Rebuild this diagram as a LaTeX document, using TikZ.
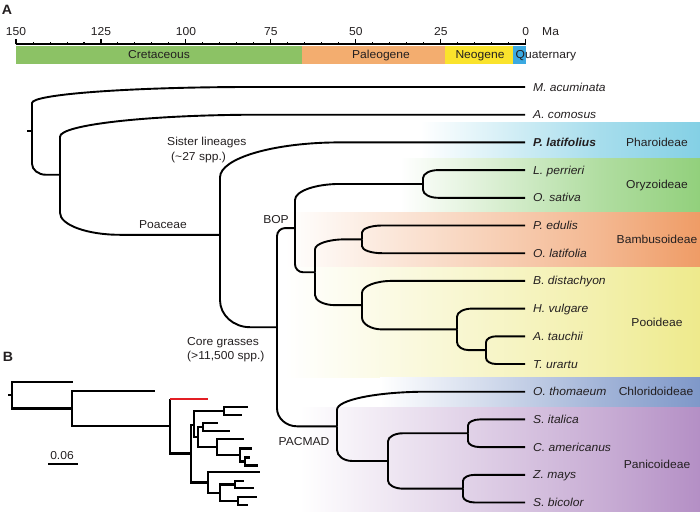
\documentclass[tikz,border=0pt]{standalone}
\usepackage{fontspec}
\setmainfont{Liberation Sans}[FakeStretch=1.05]
\usetikzlibrary{calc}
\definecolor{cret}{HTML}{8CC265}
\definecolor{pale}{HTML}{F3AD6F}
\definecolor{neog}{HTML}{FAE32C}
\definecolor{quat}{HTML}{3BA9E1}
\definecolor{phar}{HTML}{84D0E5}
\definecolor{ory}{HTML}{92D07C}
\definecolor{bamc}{HTML}{EF9C66}
\definecolor{pooc}{HTML}{EEEA8C}
\definecolor{chl}{HTML}{7F98C9}
\definecolor{panc}{HTML}{B48FC5}
\definecolor{txt}{HTML}{231F20}
\definecolor{redc}{HTML}{E31E24}
\newcommand\br[4]{%
 \draw[tree] (#1) -- ($(#1|-#2)!#4pt!(#1)$)
   .. controls ($(#1|-#2)!0.45*#4pt!(#1)$) and ($(#1|-#2)!0.45*#3pt!(#2)$)
   .. ($(#1|-#2)!#3pt!(#2)$) -- (#2);}
\newcommand\bb[2]{\draw[treeb] (#1) |- (#2);}
\newcommand\band[5]{% start, top, bottom, colour
 \shade[left color=white,right color=#4!72!white] (#1,#2) rectangle (600,#3);
 \shade[left color=#4!72!white,right color=#4] (600,#2) rectangle (700,#3);}
\tikzset{
 tree/.style={line width=1.9pt,draw=black},
 treeb/.style={line width=2.6pt,line join=miter,draw=black},
 leaf/.style={anchor=base west,font=\fontsize{11.5}{13}\selectfont\itshape,text=txt,inner sep=0pt},
 grp/.style={anchor=base,font=\fontsize{11.5}{13}\selectfont,text=txt,inner sep=0pt},
 lbl/.style={anchor=base,font=\fontsize{11.5}{13}\selectfont,text=txt,inner sep=0pt},
 panel/.style={anchor=base,font=\fontsize{13.5}{15}\selectfont\bfseries,text=txt,inner sep=0pt},
}
\begin{document}
\begin{tikzpicture}[x=1pt,y=-1pt]
\useasboundingbox (0,0) rectangle (700,511);
% ---------- clade bands
\band{420}{122}{158}{phar}{}
\band{400}{158}{212}{ory}{}
\band{285}{212}{267}{bamc}{}
\band{285}{267}{377}{pooc}{}
\band{380}{377}{407}{chl}{}
\band{300}{407}{511}{panc}{}
% ---------- time scale
\node[panel] (A) at (7,14.5) {A};
\draw[line width=1.1pt] (16,44) -- (525.7,44);
\foreach \t in {0,5,...,150}{\draw[line width=1pt] ({525.7-3.3977*\t},44.5) -- ++(0,-2.8);}
\foreach \t in {0,25,...,150}{
  \draw[line width=1.1pt] ({525.7-3.3977*\t},44.5) -- ++(0,-5);
  \node[lbl] at ({525.7-3.3977*\t},36) {\t};}
\node[lbl,anchor=base west] (ma) at (542,36) {Ma};
\fill[cret] (16,46) rectangle (301.5,64);
\fill[pale] (301.5,46) rectangle (445,64);
\fill[neog] (445,46) rectangle (513,64);
\fill[quat] (513,46) rectangle (525.7,64);
\node[lbl] (cr) at (159,59) {Cretaceous};
\node[lbl] (pg) at (381,59) {Paleogene};
\node[lbl] (ng) at (480,59) {Neogene};
\node[lbl,anchor=base west] (qt) at (515.5,59) {Quaternary};
% ---------- tips
\foreach \i/\y in {0/87.0,1/114.7,2/142.4,3/170.1,4/197.8,5/225.5,6/253.2,7/280.9,8/308.6,9/336.3,10/364.0,11/391.7,12/419.4,13/447.1,14/474.8,15/502.5}{\coordinate (t\i) at (525,\y);}
% ---------- internal nodes
\coordinate (stub) at (27,130.9);
\coordinate (n1) at (32,130.9);
\coordinate (n2) at (60,174.75);
\coordinate (poa) at (220,234.8);
\coordinate (core) at (277,327.2);
\coordinate (bop) at (295,228.1);
\coordinate (ory) at (423,183.95);
\coordinate (bp) at (315,272.25);
\coordinate (bam) at (362,239.35);
\coordinate (poo) at (362,305.15);
\coordinate (hat) at (457,329.4);
\coordinate (at) at (486,350.15);
\coordinate (pac) at (337,426.3);
\coordinate (pan) at (388,460.95);
\coordinate (sc) at (468,433.25);
\coordinate (zs) at (463,488.65);
% ---------- branches
\draw[tree] (stub) -- (n1);
\br{n1}{t0}{220}{16}
\br{n1}{n2}{14}{11}
\br{n2}{t1}{200}{22}
\br{n2}{poa}{60}{22}
\br{poa}{t2}{120}{35}
\br{poa}{core}{30}{27}
\br{core}{bop}{8}{8}
\br{core}{pac}{20}{18}
\br{bop}{ory}{45}{16}
\br{bop}{bp}{8}{8}
\br{bp}{bam}{30}{10}
\br{bp}{poo}{20}{10}
\br{ory}{t3}{15}{8}
\br{ory}{t4}{15}{8}
\br{bam}{t5}{20}{7}
\br{bam}{t6}{20}{7}
\br{poo}{t7}{30}{12}
\br{poo}{hat}{20}{12}
\br{hat}{t8}{15}{8}
\br{hat}{at}{12}{8}
\br{at}{t9}{10}{6}
\br{at}{t10}{10}{6}
\br{pac}{t11}{90}{18}
\br{pac}{pan}{15}{11}
\br{pan}{sc}{15}{8}
\br{pan}{zs}{15}{8}
\br{sc}{t12}{12}{6}
\br{sc}{t13}{12}{6}
\br{zs}{t14}{12}{6}
\br{zs}{t15}{12}{6}
% ---------- leaf labels
\node[leaf] (l0) at (533,91.0) {M. acuminata};
\node[leaf] (l1) at (533,118.7) {A. comosus};
\node[leaf] (l2) at (533,146.4) {\bfseries P. latifolius};
\node[leaf] (l3) at (533,174.1) {L. perrieri};
\node[leaf] (l4) at (533,201.8) {O. sativa};
\node[leaf] (l5) at (533,229.5) {P. edulis};
\node[leaf] (l6) at (533,257.2) {O. latifolia};
\node[leaf] (l7) at (533,284.9) {B. distachyon};
\node[leaf] (l8) at (533,312.6) {H. vulgare};
\node[leaf] (l9) at (533,340.3) {A. tauchii};
\node[leaf] (l10) at (533,368.0) {T. urartu};
\node[leaf] (l11) at (533,395.7) {O. thomaeum};
\node[leaf] (l12) at (533,423.4) {S. italica};
\node[leaf] (l13) at (533,451.1) {C. americanus};
\node[leaf] (l14) at (533,478.8) {Z. mays};
\node[leaf] (l15) at (533,506.5) {S. bicolor};
% ---------- group labels
\node[grp] (g1) at (657,146.4) {Pharoideae};
\node[grp] (g2) at (657,188) {Oryzoideae};
\node[grp] (g3) at (657,243.4) {Bambusoideae};
\node[grp] (g4) at (657,326) {Pooideae};
\node[grp] (g5) at (656,395.7) {Chloridoideae};
\node[grp] (g6) at (657,468) {Panicoideae};
% ---------- clade labels
\node[lbl,anchor=base west] (sl1) at (167,145) {Sister lineages};
\node[lbl,anchor=base west] (sl2) at (171,160) {(\textasciitilde 27 spp.)};
\node[lbl] (poaL) at (163,228) {Poaceae};
\node[lbl] (bopL) at (276,223) {BOP};
\node[lbl,anchor=base west] (cg1) at (187,345) {Core grasses};
\node[lbl,anchor=base west] (cg2) at (187,359) {(\textgreater 11,500 spp.)};
\node[lbl] (pacL) at (304,445) {PACMAD};
% ---------- panel B
\node[panel] (B) at (8,361.5) {B};
\coordinate (bstub) at (8,395.1);
\coordinate (br1) at (12,395.1);
\coordinate (bm) at (73,382);
\coordinate (bn2) at (72,408.5);
\coordinate (ba) at (155,391);
\coordinate (bpoa) at (170,426);
\coordinate (bred) at (208,399);
\coordinate (bcore) at (191,453.5);
\coordinate (bbop) at (194,425);
\coordinate (bory) at (224,411);
\coordinate (bo1) at (248,407);
\coordinate (bo2) at (242,415);
\coordinate (bbp) at (198,437);
\coordinate (bbam) at (203,427);
\coordinate (bb1) at (218,423);
\coordinate (bb2) at (230,431);
\coordinate (bpoo) at (217,447);
\coordinate (bp1) at (244,439);
\coordinate (bhat) at (240,455);
\coordinate (bh1) at (252,448.5);
\coordinate (bat) at (245,461.5);
\coordinate (ba1) at (250,457.5);
\coordinate (ba2) at (258,465.5);
\coordinate (bpac) at (208,482.5);
\coordinate (bt) at (260,472);
\coordinate (bpan) at (220,493);
\coordinate (bsc) at (235,484.5);
\coordinate (bs1) at (244,481);
\coordinate (bs2) at (254,488);
\coordinate (bzs) at (238,501);
\coordinate (bz1) at (257,497);
\coordinate (bz2) at (248,505);
\draw[treeb] (bstub) -- (br1);
\bb{br1}{bm}\bb{br1}{bn2}
\bb{bn2}{ba}\bb{bn2}{bpoa}
\draw[treeb] (bpoa) -- (bpoa|-bred);
\draw[treeb,draw=redc] (bpoa|-bred) -- (bred);
\bb{bpoa}{bcore}
\bb{bcore}{bbop}\bb{bcore}{bpac}
\bb{bbop}{bory}\bb{bbop}{bbp}
\bb{bory}{bo1}\bb{bory}{bo2}
\bb{bbp}{bbam}\bb{bbp}{bpoo}
\bb{bbam}{bb1}\bb{bbam}{bb2}
\bb{bpoo}{bp1}\bb{bpoo}{bhat}
\bb{bhat}{bh1}\bb{bhat}{bat}
\bb{bat}{ba1}\bb{bat}{ba2}
\bb{bpac}{bt}\bb{bpac}{bpan}
\bb{bpan}{bsc}\bb{bpan}{bzs}
\bb{bsc}{bs1}\bb{bsc}{bs2}
\bb{bzs}{bz1}\bb{bzs}{bz2}
% scale bar
\coordinate (sb1) at (48,464);
\coordinate (sb2) at (78,464);
\draw[line width=1.6pt] (sb1) -- (sb2);
\node[lbl] (sbl) at (62,459.5) {0.06};
\end{tikzpicture}
\end{document}
